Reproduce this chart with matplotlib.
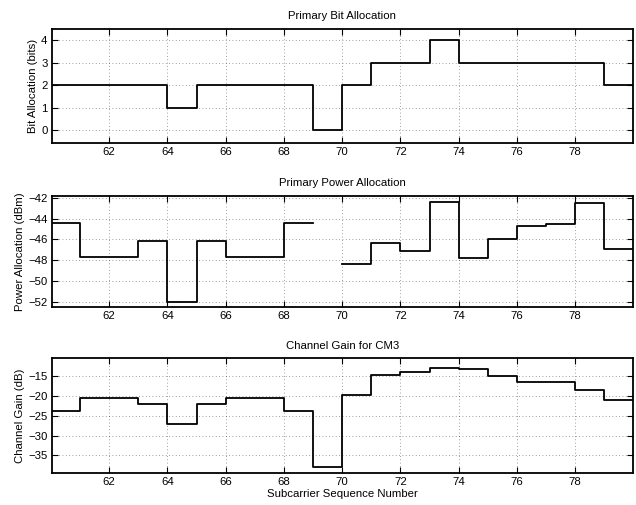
import numpy as np
import matplotlib.pyplot as plt

plt.rcParams['font.family'] = ['Liberation Sans', 'DejaVu Sans']

subcarriers = np.arange(60, 80)
bits = [2, 2, 2, 2, 1, 2, 2, 2, 2, 0, 2, 3, 3, 4, 3, 3, 3, 3, 3, 2]
power_dbm = [-44.4, -47.65, -47.65, -46.15, -51.95, -46.15, -47.65, -47.65, -44.4, np.nan,
             -48.3, -46.3, -47.1, -42.4, -47.8, -46.0, -44.75, -44.5, -42.5, -46.9]
gain_db = [-23.7, -20.5, -20.5, -22.0, -27.1, -22.0, -20.5, -20.5, -23.7, -37.9,
           -19.7, -14.75, -13.9, -12.8, -13.2, -15.0, -16.3, -16.5, -18.5, -21.1]

titles = ['Primary Bit Allocation', 'Primary Power Allocation', 'Channel Gain for CM3']
ylabels = ['Bit Allocation (bits)', 'Power Allocation (dBm)', 'Channel Gain (dB)']
yticks = [np.arange(0, 5, 1), np.arange(-52, -41, 2), np.arange(-35, -14, 5)]
ylims = [(-0.56, 4.5), (-52.45, -41.85), (-39.5, -10.4)]
series = [bits, power_dbm, gain_db]

fig = plt.figure(figsize=(6.36, 5.05), dpi=100)
left, width = 0.0813, 0.9135
boxes = [(0.7174, 0.2252), (0.3921, 0.2198), (0.0634, 0.2271)]
fs = 8.2

x = np.append(subcarriers, subcarriers[-1] + 1)
for i in range(3):
    ax = fig.add_axes([left, boxes[i][0], width, boxes[i][1]])
    y = np.append(series[i], series[i][-1])
    ax.step(x, y, where='post', color='k', linewidth=1.3)
    ax.set_xlim(60.03, 79.97)
    ax.set_ylim(*ylims[i])
    ax.set_xticks(np.arange(62, 79, 2))
    ax.set_yticks(yticks[i])
    ax.grid(True, linestyle=(0, (1, 3)), color='k', linewidth=0.6, alpha=0.5)
    ax.tick_params(direction='in', length=4, width=0.8, labelsize=fs,
                   top=True, right=True, pad=3)
    for s in ax.spines.values():
        s.set_linewidth(1.3)
    ax.set_title(titles[i], fontsize=fs, pad=7)
    ax.set_ylabel(ylabels[i], fontsize=fs, labelpad=2)
    if i == 2:
        ax.set_xlabel('Subcarrier Sequence Number', fontsize=fs, labelpad=1)

fig.savefig('out.png', dpi=100)
